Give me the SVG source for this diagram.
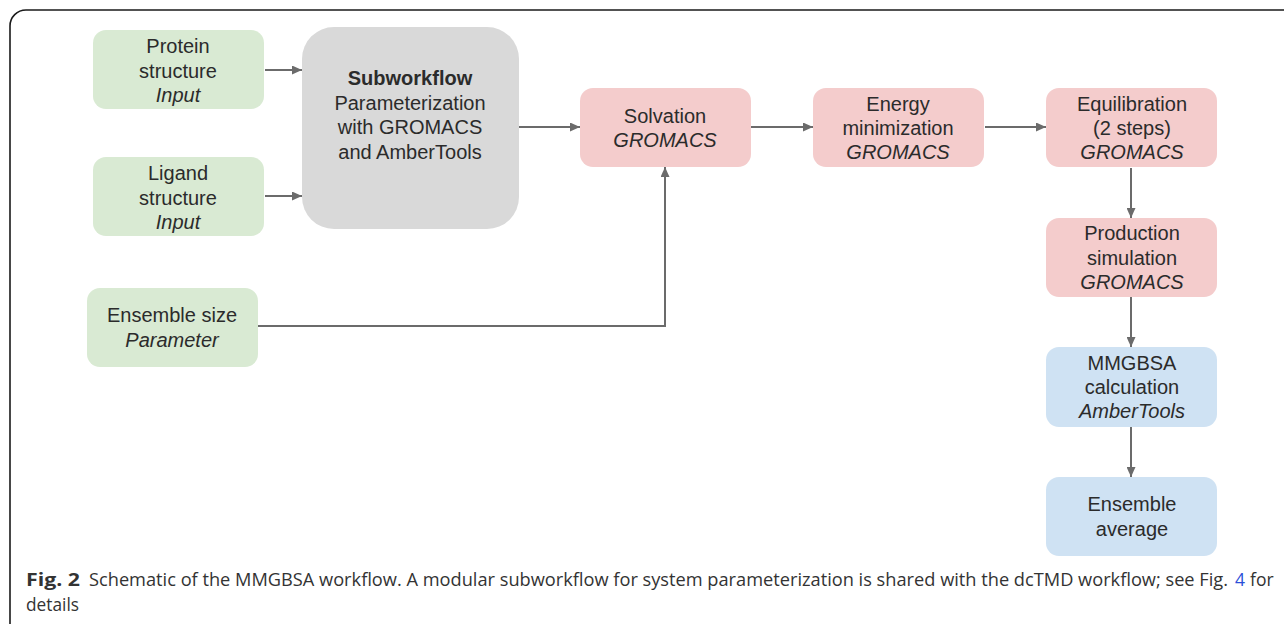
<svg xmlns="http://www.w3.org/2000/svg" width="1284" height="624" viewBox="0 0 1284 624">
  <style>
    .frame { fill: none; stroke: #1a1a1a; stroke-width: 1.6; }
    .box { stroke: none; }
    .green { fill: #d9ead3; }
    .gray { fill: #d9d9d9; }
    .red { fill: #f4cccc; }
    .blue { fill: #cfe2f3; }
    .lbl { font-family: "Liberation Sans", Arial, sans-serif; font-size: 20px; fill: #2b2b2b; text-anchor: middle; }
    .it { font-style: italic; }
    .bd { font-weight: bold; }
    .edge { fill: none; stroke: #6b6b6b; stroke-width: 2; }
    .cap { font-family: "Open Sans", "DejaVu Sans", sans-serif; font-size: 17.5px; fill: #333333; }
    .link { fill: #2b4fd8; }
  </style>
  <defs>
    <marker id="arrow" viewBox="0 0 10 9" refX="10" refY="4.5" markerWidth="5.5" markerHeight="4.5" orient="auto" markerUnits="strokeWidth">
      <path d="M0,0 L10,4.5 L0,9 Z" fill="#6b6b6b"/>
    </marker>
  </defs>

  <rect width="1284" height="624" fill="#ffffff"/>
  <rect class="frame" x="10" y="10" width="1300" height="640" rx="16"/>

  <!-- connectors -->
  <g id="connectors">
    <line class="edge" x1="265" y1="70" x2="302" y2="70" marker-end="url(#arrow)"/>
    <line class="edge" x1="265" y1="196" x2="302" y2="196" marker-end="url(#arrow)"/>
    <line class="edge" x1="519" y1="127" x2="580" y2="127" marker-end="url(#arrow)"/>
    <line class="edge" x1="751" y1="127" x2="813" y2="127" marker-end="url(#arrow)"/>
    <line class="edge" x1="985" y1="127" x2="1046" y2="127" marker-end="url(#arrow)"/>
    <polyline class="edge" points="258,326 665,326 665,167" marker-end="url(#arrow)"/>
    <line class="edge" x1="1131" y1="168" x2="1131" y2="218" marker-end="url(#arrow)"/>
    <line class="edge" x1="1131" y1="297" x2="1131" y2="347" marker-end="url(#arrow)"/>
    <line class="edge" x1="1131" y1="427" x2="1131" y2="477" marker-end="url(#arrow)"/>
  </g>

  <g id="protein">
    <rect class="box green" x="93" y="30" width="171" height="79" rx="13"/>
    <text class="lbl" x="178" y="53">Protein</text>
    <text class="lbl" x="178" y="78">structure</text>
    <text class="lbl it" x="178" y="102">Input</text>
  </g>

  <g id="ligand">
    <rect class="box green" x="93" y="157" width="171" height="79" rx="13"/>
    <text class="lbl" x="178" y="180">Ligand</text>
    <text class="lbl" x="178" y="205">structure</text>
    <text class="lbl it" x="178" y="229">Input</text>
  </g>

  <g id="ensemble-size">
    <rect class="box green" x="87" y="288" width="171" height="79" rx="13"/>
    <text class="lbl" x="172" y="322">Ensemble size</text>
    <text class="lbl it" x="172" y="347">Parameter</text>
  </g>

  <g id="subworkflow">
    <rect class="box gray" x="302" y="27" width="217" height="202" rx="32"/>
    <text class="lbl bd" x="410" y="85">Subworkflow</text>
    <text class="lbl" x="410" y="110">Parameterization</text>
    <text class="lbl" x="410" y="134">with GROMACS</text>
    <text class="lbl" x="410" y="159">and AmberTools</text>
  </g>

  <g id="solvation">
    <rect class="box red" x="580" y="88" width="171" height="79" rx="13"/>
    <text class="lbl" x="665" y="123">Solvation</text>
    <text class="lbl it" x="665" y="147">GROMACS</text>
  </g>

  <g id="energy-minimization">
    <rect class="box red" x="813" y="88" width="171" height="79" rx="13"/>
    <text class="lbl" x="898" y="111">Energy</text>
    <text class="lbl" x="898" y="135">minimization</text>
    <text class="lbl it" x="898" y="159">GROMACS</text>
  </g>

  <g id="equilibration">
    <rect class="box red" x="1046" y="88" width="171" height="79" rx="13"/>
    <text class="lbl" x="1132" y="111">Equilibration</text>
    <text class="lbl" x="1132" y="135">(2 steps)</text>
    <text class="lbl it" x="1132" y="159">GROMACS</text>
  </g>

  <g id="production">
    <rect class="box red" x="1046" y="218" width="171" height="79" rx="13"/>
    <text class="lbl" x="1132" y="240">Production</text>
    <text class="lbl" x="1132" y="265">simulation</text>
    <text class="lbl it" x="1132" y="289">GROMACS</text>
  </g>

  <g id="mmgbsa">
    <rect class="box blue" x="1046" y="347" width="171" height="80" rx="13"/>
    <text class="lbl" x="1132" y="370">MMGBSA</text>
    <text class="lbl" x="1132" y="394">calculation</text>
    <text class="lbl it" x="1132" y="418">AmberTools</text>
  </g>

  <g id="ensemble-average">
    <rect class="box blue" x="1046" y="477" width="171" height="79" rx="13"/>
    <text class="lbl" x="1132" y="511">Ensemble</text>
    <text class="lbl" x="1132" y="536">average</text>
  </g>

  <!-- caption, set piece by piece so each run keeps its own width -->
  <g id="caption">
    <text class="cap bd" x="26" y="586" textLength="54" lengthAdjust="spacingAndGlyphs">Fig. 2</text>
    <text class="cap" x="89" y="586" textLength="1139" lengthAdjust="spacingAndGlyphs">Schematic of the MMGBSA workflow. A modular subworkflow for system parameterization is shared with the dcTMD workflow; see Fig.</text>
    <text class="cap link" x="1235" y="586">4</text>
    <text class="cap" x="1250" y="586">for</text>
    <text class="cap" x="26" y="611" textLength="53" lengthAdjust="spacingAndGlyphs">details</text>
  </g>
</svg>
